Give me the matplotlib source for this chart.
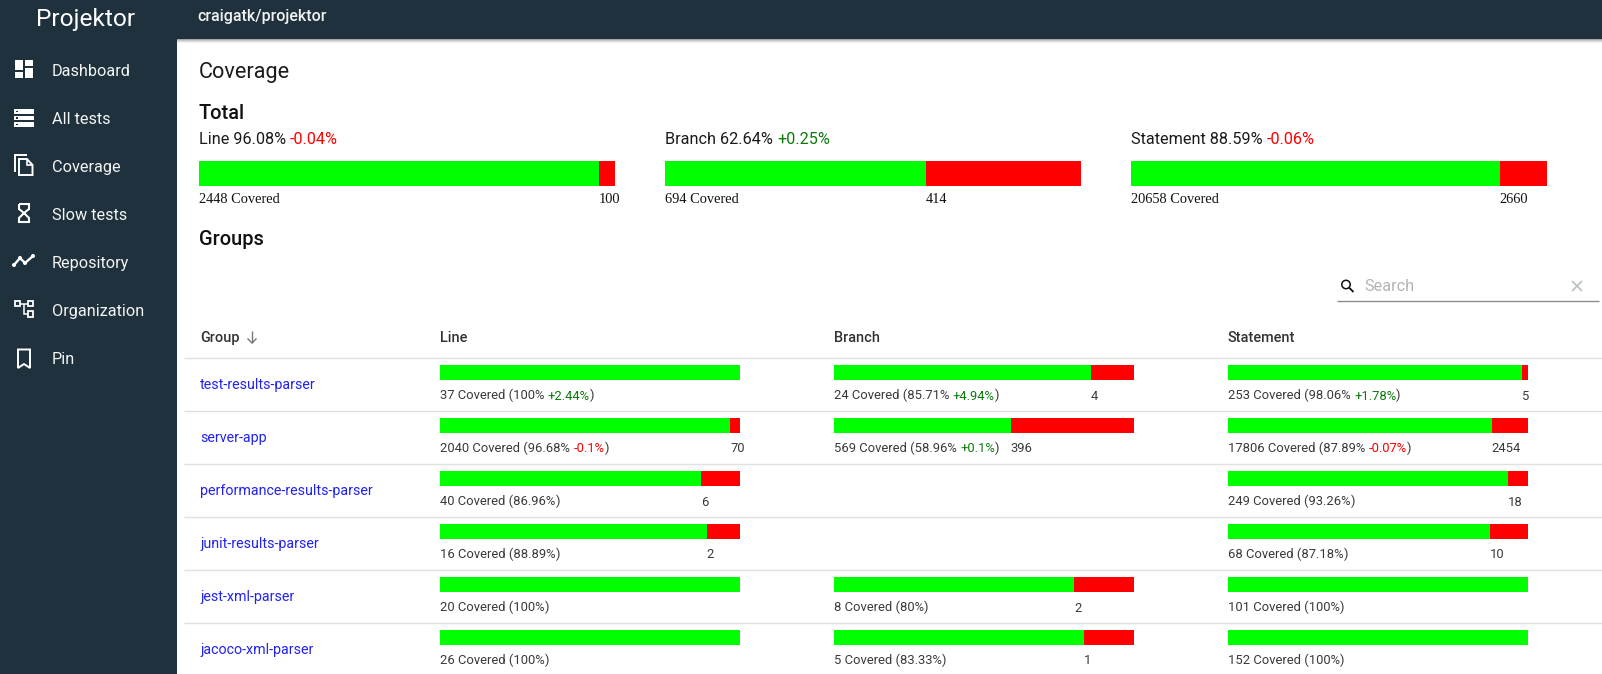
"""Coverage page of Projektor, redrawn with matplotlib."""
import matplotlib
matplotlib.use("Agg")
import matplotlib.pyplot as plt
from matplotlib.patches import Circle, Polygon, Rectangle

WIDTH, HEIGHT = 1602, 674

SIDEBAR = "#1e313c"
GREEN = "#00ff00"
RED = "#ff0000"
DELTA_UP = "#0b7a0b"
LINK = "#2222f0"
INK = "#2a2a2a"

NAV_ITEMS = ["Dashboard", "All tests", "Coverage", "Slow tests", "Repository", "Organization", "Pin"]

TOTAL_NAMES = ["Line", "Branch", "Statement"]
TOTAL_PERCENT = ["96.08%", "62.64%", "88.59%"]
TOTAL_DELTA = ["-0.04%", "+0.25%", "-0.06%"]
TOTAL_COVERED = [2448, 694, 20658]
TOTAL_MISSED = [100, 414, 2660]

GROUPS = ["test-results-parser", "server-app", "performance-results-parser",
          "junit-results-parser", "jest-xml-parser", "jacoco-xml-parser"]
LINE_COVERED = [37, 2040, 40, 16, 20, 26]
LINE_MISSED = [0, 70, 6, 2, 0, 0]
LINE_PERCENT = ["100%", "96.68%", "86.96%", "88.89%", "100%", "100%"]
LINE_DELTA = ["+2.44%", "-0.1%", None, None, None, None]
BRANCH_COVERED = [24, 569, None, None, 8, 5]
BRANCH_MISSED = [4, 396, None, None, 2, 1]
BRANCH_PERCENT = ["85.71%", "58.96%", None, None, "80%", "83.33%"]
BRANCH_DELTA = ["+4.94%", "+0.1%", None, None, None, None]
STATEMENT_COVERED = [253, 17806, 249, 68, 101, 152]
STATEMENT_MISSED = [5, 2454, 18, 10, 0, 0]
STATEMENT_PERCENT = ["98.06%", "87.89%", "93.26%", "87.18%", "100%", "100%"]
STATEMENT_DELTA = ["+1.78%", "-0.07%", None, None, None, None]

plt.rcParams["font.family"] = ["Roboto", "DejaVu Sans"]

fig = plt.figure(figsize=(WIDTH / 100, HEIGHT / 100), dpi=100, facecolor="white")
page = fig.add_axes([0, 0, 1, 1])
page.set_xlim(0, WIDTH)
page.set_ylim(HEIGHT, 0)
page.axis("off")


def px(size):
    return size * 0.72


def put(x, y, text, size, color=INK, **kw):
    # y is the baseline, in page pixels
    return page.text(x, y, text, fontsize=px(size), color=color, va="baseline", **kw)


def put_runs(x, y, runs, size, **kw):
    # several colours on one line: each piece starts where the last one ended
    renderer = fig.canvas.get_renderer()
    for text, color in runs:
        t = put(x, y, text, size, color, **kw)
        x = t.get_window_extent(renderer).x1


def rect(x0, y0, x1, y1, color, zorder=2, **kw):
    page.add_patch(Rectangle((x0, y0), x1 - x0, y1 - y0, facecolor=color, edgecolor="none", zorder=zorder, **kw))


def stroke(xs, ys, color="white", lw=1.4, zorder=3):
    page.plot(xs, ys, color=color, lw=lw, zorder=zorder, solid_capstyle="butt", solid_joinstyle="miter")


def coverage_bar(x, y, w, h, covered, missed):
    ax = fig.add_axes([x / WIDTH, 1 - (y + h) / HEIGHT, w / WIDTH, h / HEIGHT])
    ax.barh(0, covered, height=1, color=GREEN)
    ax.barh(0, missed, left=covered, height=1, color=RED)
    ax.set_xlim(0, covered + missed)
    ax.set_ylim(-0.5, 0.5)
    ax.axis("off")
    return x + w * covered / (covered + missed)


def delta_color(delta):
    return RED if delta.startswith("-") else DELTA_UP


def draw_icons():
    # dashboard
    rect(15, 60, 23, 70, "white", 3)
    rect(15, 72, 23, 78, "white", 3)
    rect(25, 60, 33, 66, "white", 3)
    rect(25, 68, 33, 78, "white", 3)
    # all tests
    for top in (109, 115.5, 122):
        rect(14, top, 34, top + 4.5, "white", 3)
        rect(16, top + 1.5, 18, top + 3, SIDEBAR, 4)
    # coverage
    stroke([15, 15, 27], [172, 155, 155], lw=1.4)
    page.add_patch(Polygon([(19, 159), (27, 159), (32.5, 165), (32.5, 175), (19, 175)], closed=True,
                           facecolor="none", edgecolor="white", lw=1.4, zorder=3))
    stroke([27, 27, 32.5], [159, 165, 165], lw=1.2)
    # slow tests
    stroke([19, 29, 29, 24, 29, 29, 19, 19, 24, 19, 19], [204, 204, 209, 213, 218, 222, 222, 218, 213, 209, 204], lw=1.5)
    # repository
    stroke([14, 20, 25, 33], [265, 258, 263, 256], lw=1.7)
    for cx, cy in [(14, 265), (20, 258), (25, 263), (33, 256)]:
        page.add_patch(Circle((cx, cy), 1.3, color="white", zorder=3))
    # organization
    for x0, y0, x1, y1 in [(15, 301, 20, 306), (28, 301, 33, 306), (28, 311, 33, 317)]:
        page.add_patch(Rectangle((x0, y0), x1 - x0, y1 - y0, facecolor="none", edgecolor="white", lw=1.3, zorder=3))
    stroke([20, 28], [303.5, 303.5], lw=1.1)
    stroke([24, 24, 28], [303.5, 314, 314], lw=1.1)
    # pin
    page.add_patch(Polygon([(18, 349.5), (30, 349.5), (30, 368), (24, 364), (18, 368)], closed=True,
                           facecolor="none", edgecolor="white", lw=1.4, zorder=3))


# chrome
rect(0, 0, 177, HEIGHT, SIDEBAR, 1)
rect(177, 0, WIDTH, 39, SIDEBAR, 1)
for i, alpha in enumerate((0.35, 0.22, 0.12, 0.06)):
    rect(177, 39 + i, WIDTH, 40 + i, "black", 1, alpha=alpha)

put(86, 26, "Projektor", 24.5, "white", ha="center")
put(197, 21, "craigatk/projektor", 16, "#f2f2f2", fontweight="medium")
for i, name in enumerate(NAV_ITEMS):
    put(52, 76 + 48 * i, name, 16.3, "#f4f4f4")
draw_icons()

# totals
put(199, 78, "Coverage", 21.6, "#1a1a1a")
put(198.5, 119, "Total", 20, "#111111", fontweight="medium")
put(199, 245, "Groups", 20, "#111111", fontweight="medium")

for x, name, percent, delta, covered, missed in zip(
        (199, 665, 1131), TOTAL_NAMES, TOTAL_PERCENT, TOTAL_DELTA, TOTAL_COVERED, TOTAL_MISSED):
    put_runs(x, 144, [(f"{name} {percent} ", "#1a1a1a"), (delta, delta_color(delta))], 16.3)
    split = coverage_bar(x, 161, 416, 25, covered, missed)
    put(x, 203, f"{covered} Covered", 14.4, "#111111", family="Liberation Serif")
    put(split, 203, str(missed), 14.4, "#111111", family="Liberation Serif")

# search box
page.add_patch(Circle((1346, 284.5), 4.2, facecolor="none", edgecolor="#111111", lw=1.1, zorder=3))
stroke([1349, 1353.5], [287.5, 292], "#111111", 1.3)
put(1364.5, 291, "Search", 16.3, "#b4b4b4")
stroke([1572, 1582], [281, 291], "#b8c0c0", 1.2)
stroke([1572, 1582], [291, 281], "#b8c0c0", 1.2)
stroke([1337, 1599], [301, 301], "#8c8c8c", 1.0)

# table
LINE_X, BRANCH_X, STATEMENT_X = 440, 834, 1228
BAR_W = 300
ROW_TOP = 358
ROW_H = 53

put(200, 342, "Group", 14.5, "#333333", fontweight="medium")
stroke([252, 252], [331, 343], "#777777", 1.0)
stroke([247.5, 252, 256.5], [338.5, 343, 338.5], "#777777", 1.0)
for x, name in zip((LINE_X, BRANCH_X, STATEMENT_X), TOTAL_NAMES):
    put(x, 342, name, 14.5, "#333333", fontweight="medium")

columns = [
    (LINE_X, LINE_COVERED, LINE_MISSED, LINE_PERCENT, LINE_DELTA),
    (BRANCH_X, BRANCH_COVERED, BRANCH_MISSED, BRANCH_PERCENT, BRANCH_DELTA),
    (STATEMENT_X, STATEMENT_COVERED, STATEMENT_MISSED, STATEMENT_PERCENT, STATEMENT_DELTA),
]

for row, group in enumerate(GROUPS):
    top = ROW_TOP + ROW_H * row
    stroke([184, WIDTH], [top, top], "#e0e0e0", 1.0, 1)
    put(200, top + 31, group, 14.3, LINK)
    for x, covered, missed, percent, delta in columns:
        if covered[row] is None:
            continue
        split = coverage_bar(x, top + 7, BAR_W, 15, covered[row], missed[row])
        runs = [(f"{covered[row]} Covered ({percent[row]}", "#3a3a3a")]
        if delta[row]:
            runs.append((" ", "#3a3a3a"))
            runs.append((delta[row], delta_color(delta[row])))
        runs.append((")", "#3a3a3a"))
        put_runs(x, top + 41.5, runs, 13)
        if missed[row]:
            put(split, top + 41.5, str(missed[row]), 13, "#3a3a3a")

fig.savefig("out.png", dpi=100)
